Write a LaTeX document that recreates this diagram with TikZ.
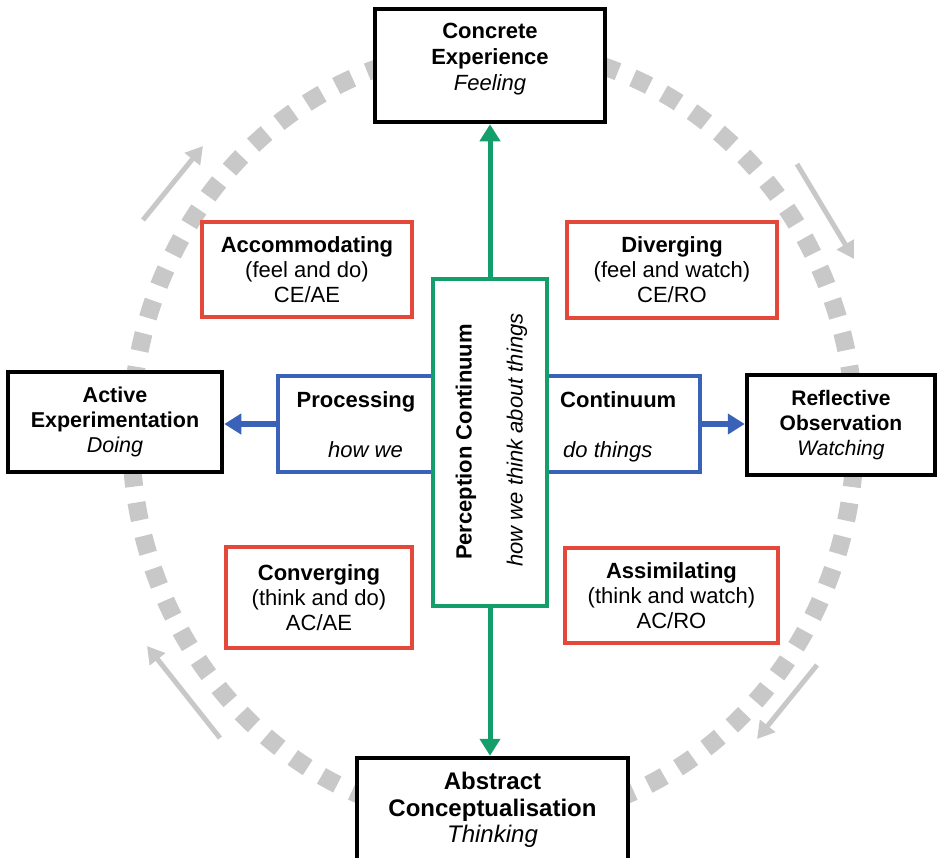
\documentclass[tikz,border=0pt]{standalone}
\usepackage{fontspec}
\setmainfont{Liberation Sans}
\usetikzlibrary{arrows.meta}

\definecolor{kred}{RGB}{228,72,58}
\definecolor{kblue}{RGB}{58,98,184}
\definecolor{kgreen}{RGB}{20,158,108}
\definecolor{kgray}{RGB}{200,200,200}

\tikzset{
  txt/.style={align=center, inner sep=0pt, font=\fontsize{22}{26}\selectfont},
  polebox/.style={draw=black, line width=4.5pt, fill=white, inner sep=0pt},
  stylebox/.style={draw=kred, line width=3.5pt, fill=white, inner sep=0pt, align=center,
                   font=\fontsize{22}{25}\selectfont},
  procbox/.style={draw=kblue, line width=3.5pt, fill=white, inner sep=0pt},
  percbox/.style={draw=kgreen, line width=3.5pt, fill=white, inner sep=0pt},
  boldtxt/.style={inner sep=0pt, font=\fontsize{22}{26}\selectfont\bfseries},
  itxt/.style={inner sep=0pt, font=\fontsize{22}{26}\selectfont\itshape},
  garrow/.style={draw=kgreen, line width=5pt, -{Triangle[length=17pt,width=20pt]}},
  barrow/.style={draw=kblue, line width=5.5pt, -{Triangle[length=17pt,width=20pt]}},
  cyclearrow/.style={draw=kgray, line width=5pt, -{Triangle[length=17pt,width=19pt]}},
  cycle ring/.style={draw=kgray, line width=18pt, dash pattern=on 18pt off 16.1pt},
}

\begin{document}
\begin{tikzpicture}[x=1pt,y=-1pt]
  \useasboundingbox (0,0) rectangle (944,857);
  \clip (0,0) rectangle (944,857);

  % dotted learning cycle
  \draw[cycle ring] (493,435) ellipse [x radius=362, y radius=387];

  % direction of the cycle
  \coordinate (tl0) at (143,220);  \coordinate (tl1) at (203,146);
  \coordinate (tr0) at (797,164);  \coordinate (tr1) at (854,259);
  \coordinate (br0) at (817,665);  \coordinate (br1) at (757,739);
  \coordinate (bl0) at (220,738);  \coordinate (bl1) at (147,646);
  \draw[cyclearrow] (tl0) -- (tl1);
  \draw[cyclearrow] (tr0) -- (tr1);
  \draw[cyclearrow] (br0) -- (br1);
  \draw[cyclearrow] (bl0) -- (bl1);

  % processing continuum
  \node[procbox, minimum width=155pt, minimum height=96pt] (proc) at (355.5,424) {};
  \node[procbox, minimum width=153pt, minimum height=96pt] (cont) at (623.5,424) {};

  % perception continuum
  \node[percbox, minimum width=114pt, minimum height=327pt] (perc) at (490,442.5) {};

  % learning styles
  \node[stylebox, minimum width=210pt, minimum height=95pt] (acc) at (307,269.5)
    {\textbf{Accommodating}\\(feel and do)\\CE/AE};
  \node[stylebox, minimum width=210pt, minimum height=96pt] (div) at (672,270)
    {\textbf{Diverging}\\(feel and watch)\\CE/RO};
  \node[stylebox, minimum width=186pt, minimum height=101pt] (conv) at (319,597.5)
    {\textbf{Converging}\\(think and do)\\AC/AE};
  \node[stylebox, minimum width=213pt, minimum height=95pt] (assim) at (671.5,595.5)
    {\textbf{Assimilating}\\(think and watch)\\AC/RO};

  % learning modes
  \node[polebox, minimum width=230pt, minimum height=113pt] (ce) at (490,65.5) {};
  \node[polebox, minimum width=214pt, minimum height=100pt] (ae) at (115,422) {};
  \node[polebox, minimum width=188pt, minimum height=100pt] (ro) at (841,425) {};
  \node[polebox, minimum width=271pt, minimum height=113pt] (ac) at (492.5,814.5) {};

  \node[txt] (cetxt) at (490,59.5) {\textbf{Concrete}\\\textbf{Experience}\\\textit{Feeling}};
  \node[txt, font=\fontsize{21.5}{25}\selectfont] (aetxt) at (115,421.5)
    {\textbf{Active}\\\textbf{Experimentation}\\\textit{Doing}};
  \node[txt, font=\fontsize{21}{25}\selectfont] (rotxt) at (841,425)
    {\textbf{Reflective}\\\textbf{Observation}\\\textit{Watching}};
  \node[txt, font=\fontsize{24}{26.5}\selectfont] (actxt) at (492.5,810)
    {\textbf{Abstract}\\\textbf{Conceptualisation}\\\textit{Thinking}};

  % axes
  \draw[garrow] (perc.north) -- (ce.south);
  \draw[garrow] (perc.south) -- (perc.south |- ac.north);
  \draw[barrow] (proc.west) -- (proc.west -| ae.east);
  \draw[barrow] (cont.east) -- (cont.east -| ro.west);

  % axis labels
  \node[boldtxt, anchor=base] (proct) at (356,407) {Processing};
  \node[itxt, anchor=base east] (howwe) at (403,457) {how we};
  \node[boldtxt, anchor=base west] (contt) at (560,407) {Continuum};
  \node[itxt, anchor=base west] (dothings) at (563,457) {do things};
  \node[boldtxt, rotate=90] (perct) at (466,442) {Perception Continuum};
  \node[itxt, rotate=90] (thinkt) at (517,440) {how we think about things};
\end{tikzpicture}
\end{document}
